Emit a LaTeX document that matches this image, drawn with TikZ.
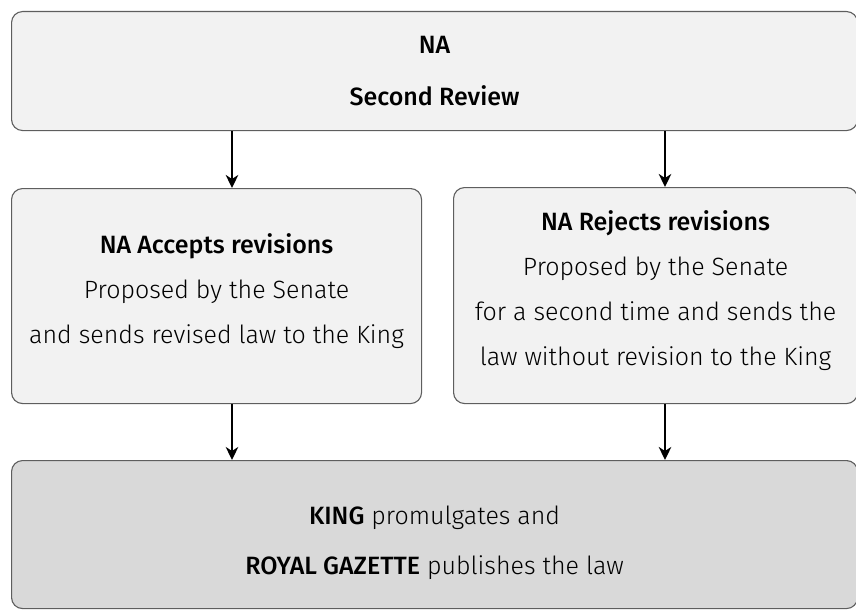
\documentclass[tikz,border=0pt]{standalone}
\usepackage{fontspec}
\setmainfont{Fira Sans}[UprightFont={Fira Sans Light}, BoldFont={Fira Sans Medium}]
\usetikzlibrary{arrows.meta}
\definecolor{boxfill}{HTML}{F2F2F2}
\definecolor{kingfill}{HTML}{D9D9D9}
\definecolor{boxline}{HTML}{5E5E5E}
\begin{document}
\begin{tikzpicture}[x=1pt,y=-1pt,
  stagebox/.style={draw=boxline, line width=1.1pt, fill=boxfill, rounded corners=11pt,
    anchor=north west, inner sep=0pt},
  stagetext/.style={inner sep=0pt, align=center, text=black,
    font=\fontsize{25}{45}\selectfont},
  flow/.style={line width=2pt, -{Stealth[length=13pt,width=12.5pt,inset=4pt]}}]
  \useasboundingbox (0,0) rectangle (856,610);
  \clip (0,0) rectangle (856,610);

  % boxes
  \node[stagebox, minimum width=846pt, minimum height=119pt] (review) at (11,11) {};
  \node[stagebox, minimum width=410pt, minimum height=215pt] (accept) at (11,188) {};
  \node[stagebox, minimum width=404pt, minimum height=216pt] (reject) at (453,187) {};
  \node[stagebox, fill=kingfill, minimum width=846pt, minimum height=148pt] (king) at (11,460) {};

  % box texts
  \node[stagetext, font=\fontsize{25}{52}\selectfont] (reviewText) at (review.center)
    {\textbf{NA}\\\textbf{Second Review}};
  \node[stagetext] (acceptText) at ([yshift=5pt]accept.center)
    {\textbf{NA Accepts revisions}\\Proposed by the Senate\\and sends revised law to the King};
  \node[stagetext] (rejectText) at ([yshift=5pt]reject.center)
    {\textbf{NA Rejects revisions}\\Proposed by the Senate\\for a second time and sends the\\law without revision to the King};
  \node[stagetext, font=\fontsize{25}{50}\selectfont] (kingText) at ([yshift=-8pt]king.center)
    {\textbf{KING} promulgates and\\\textbf{ROYAL GAZETTE} publishes the law};

  % arrow columns
  \coordinate (colA) at (232,0);
  \coordinate (colB) at (665,0);

  \draw[flow] (review.south -| colA) -- (accept.north -| colA);
  \draw[flow] (review.south -| colB) -- (reject.north -| colB);
  \draw[flow] (accept.south -| colA) -- (king.north -| colA);
  \draw[flow] (reject.south -| colB) -- (king.north -| colB);
\end{tikzpicture}
\end{document}
